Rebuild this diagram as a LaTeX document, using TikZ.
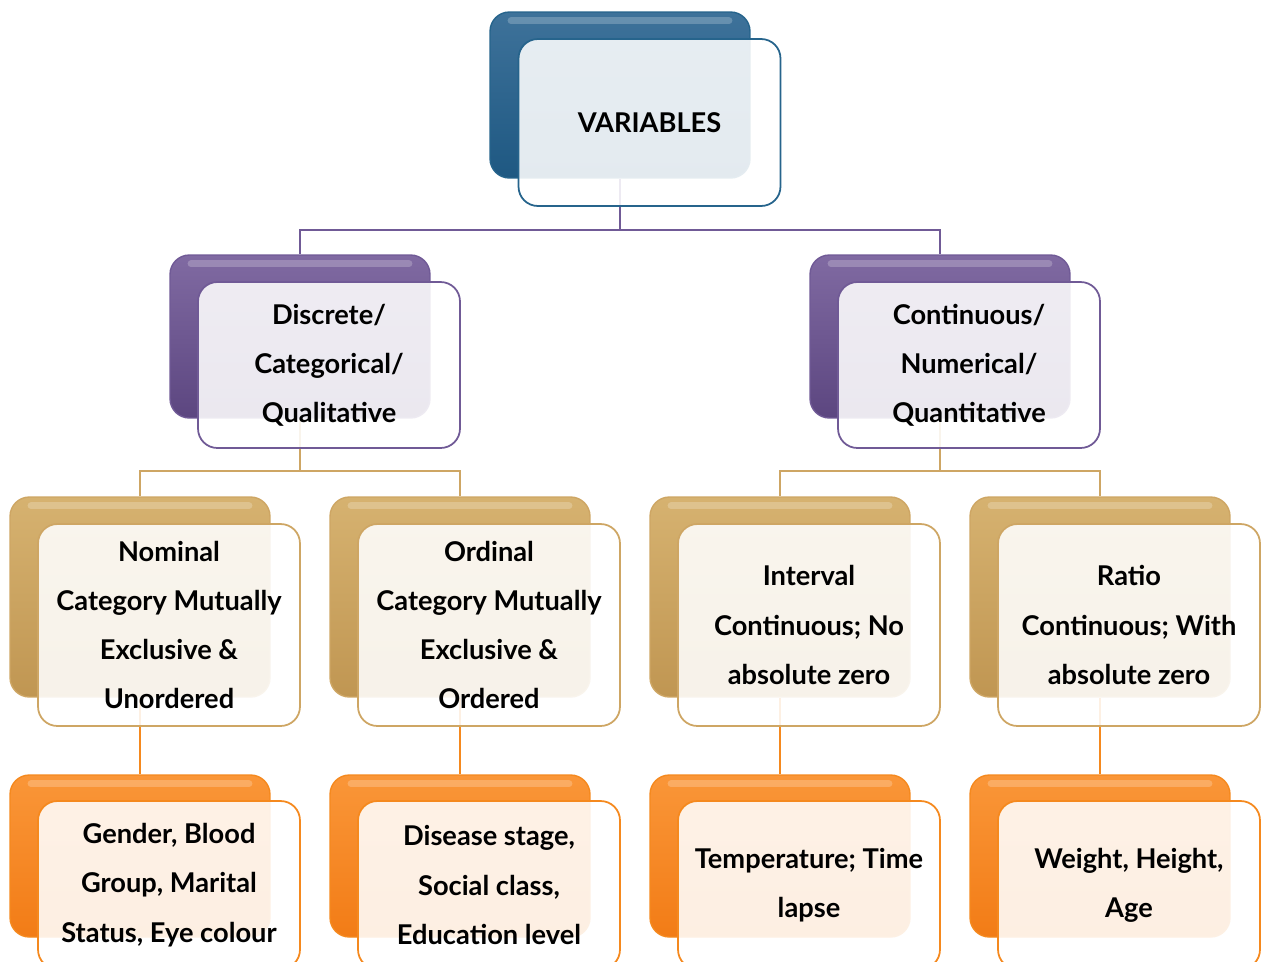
\documentclass[tikz,border=0pt]{standalone}
\usepackage{fontspec}
\setmainfont{Lato}
\usepackage{tikz}
\usetikzlibrary{positioning}

\definecolor{bluetop}{RGB}{62,114,154}
\definecolor{bluebot}{RGB}{30,88,130}
\definecolor{blueedge}{RGB}{38,100,140}
\definecolor{purptop}{RGB}{128,106,162}
\definecolor{purpbot}{RGB}{92,70,128}
\definecolor{purpedge}{RGB}{112,90,150}
\definecolor{tantop}{RGB}{214,178,112}
\definecolor{tanbot}{RGB}{192,150,82}
\definecolor{tanedge}{RGB}{206,166,100}
\definecolor{orgtop}{RGB}{250,150,56}
\definecolor{orgbot}{RGB}{242,124,22}
\definecolor{orgedge}{RGB}{245,137,30}

\newcommand{\boxfont}{\bfseries\fontsize{15.5}{28}\selectfont}

\tikzset{
	backbox/.style={rectangle,rounded corners=11pt,minimum width=5.2cm,line width=.8pt,
		path picture={\draw[white,opacity=.22,line width=4pt,line cap=round]
			([xshift=12pt,yshift=-5pt]path picture bounding box.north west) --
			([xshift=-12pt,yshift=-5pt]path picture bounding box.north east);}},
	frontbox/.style={rectangle,rounded corners=11pt,minimum width=5.24cm,fill=white,
		fill opacity=.88,text opacity=1,line width=1pt,align=center,inner sep=2pt,font=\boxfont},
	bluebox/.style={backbox,top color=bluetop,bottom color=bluebot,draw=blueedge},
	purpbox/.style={backbox,top color=purptop,bottom color=purpbot,draw=purpedge},
	tanbox/.style={backbox,top color=tantop,bottom color=tanbot,draw=tanedge},
	orgbox/.style={backbox,top color=orgtop,bottom color=orgbot,draw=orgedge},
	link/.style={line width=1.2pt}
}

\begin{document}
\begin{tikzpicture}[x=0.02cm,y=-0.02cm]
	\useasboundingbox (0,0) rectangle (1261,961);
	\clip (0,0) rectangle (1261,961);
	% back boxes
	\node[bluebox,minimum height=3.32cm] (varback) at (620,95) {};
	\node[purpbox,minimum height=3.26cm] (discback) at (300,336.5) {};
	\node[purpbox,minimum height=3.26cm] (contback) at (940,336.5) {};
	\node[tanbox,minimum height=4cm] (nomback) at (140,597) {};
	\node[tanbox,minimum height=4cm] (ordback) at (460,597) {};
	\node[tanbox,minimum height=4cm] (intback) at (780,597) {};
	\node[tanbox,minimum height=4cm] (ratback) at (1100,597) {};
	\node[orgbox,minimum height=3.24cm] (genback) at (140,856) {};
	\node[orgbox,minimum height=3.24cm] (disback) at (460,856) {};
	\node[orgbox,minimum height=3.24cm] (tempback) at (780,856) {};
	\node[orgbox,minimum height=3.24cm] (wtback) at (1100,856) {};
	
	% connectors
	\foreach \from/\to in {varback/discback, varback/contback}
	\draw[link,purpedge] (\from.south) -- ++(0,51) -| (\to.north);
	\foreach \from/\to in {discback/nomback, discback/ordback, contback/intback, contback/ratback}
	\draw[link,tanedge] (\from.south) -- ++(0,52) -| (\to.north);
	\foreach \from/\to in {nomback/genback, ordback/disback, intback/tempback, ratback/wtback}
	\draw[link,orgedge] (\from) -- (\to);
	
	% front boxes
	\node[frontbox,draw=blueedge,minimum height=3.34cm] (varfront) at (649.5,122.5) {VARIABLES};
	\node[frontbox,draw=purpedge,minimum height=3.32cm] (discfront) at (329,365) {Discrete/\\Categorical/\\Qualitative};
	\node[frontbox,draw=purpedge,minimum height=3.32cm] (contfront) at (969,365) {Continuous/\\Numerical/\\Quantitative};
	\node[frontbox,draw=tanedge,minimum height=4.04cm] (nomfront) at (169,625) {Nominal\\Category Mutually\\Exclusive \&\\Unordered};
	\node[frontbox,draw=tanedge,minimum height=4.04cm] (ordfront) at (489,625) {Ordinal\\Category Mutually\\Exclusive \&\\Ordered};
	\node[frontbox,draw=tanedge,minimum height=4.04cm] (intfront) at (809,625) {Interval\\Continuous; No\\absolute zero};
	\node[frontbox,draw=tanedge,minimum height=4.04cm] (ratfront) at (1129,625) {Ratio\\Continuous; With\\absolute zero};
	\node[frontbox,draw=orgedge,minimum height=3.36cm] (genfront) at (169,885) {Gender, Blood\\Group, Marital\\Status, Eye colour};
	\node[frontbox,draw=orgedge,minimum height=3.36cm] (disfront) at (489,885) {Disease stage,\\Social class,\\Education level};
	\node[frontbox,draw=orgedge,minimum height=3.36cm] (tempfront) at (809,885) {Temperature; Time\\lapse};
	\node[frontbox,draw=orgedge,minimum height=3.36cm] (wtfront) at (1129,885) {Weight, Height,\\Age};
\end{tikzpicture}
\end{document}
